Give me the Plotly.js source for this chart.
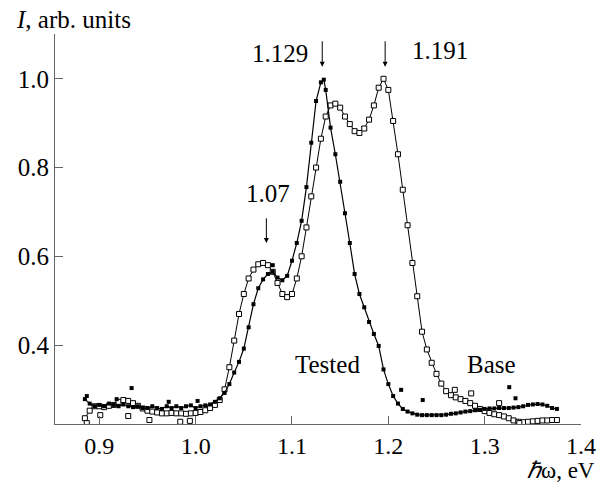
<!DOCTYPE html>
<html>
<head>
<meta charset="utf-8">
<script src="https://cdn.plot.ly/plotly-3.0.1.min.js"></script>
<style>html,body{margin:0;padding:0;background:#fff;}#chart{width:599px;height:483px;}</style>
</head>
<body>
<div id="chart"></div>
<script>
// Base sample (open squares)
const baseE = [0.885,0.890,0.895,0.900,0.905,0.910,0.915,0.920,0.925,0.930,0.935,0.940,0.945,0.950,0.955,0.960,0.965,0.970,0.975,0.980,0.985,0.990,0.995,1.000,1.005,1.010,1.015,1.020,1.025,1.030,1.035,1.040,1.045,1.050,1.055,1.060,1.065,1.070,1.075,1.080,1.085,1.090,1.095,1.100,1.105,1.110,1.115,1.120,1.125,1.130,1.135,1.140,1.145,1.150,1.155,1.160,1.165,1.170,1.175,1.180,1.185,1.190,1.195,1.200,1.205,1.210,1.215,1.220,1.225,1.230,1.235,1.240,1.245,1.250,1.255,1.260,1.265,1.270,1.275,1.280,1.285,1.290,1.295,1.300,1.305,1.310,1.315,1.320,1.325,1.330,1.335,1.340,1.345,1.350,1.355,1.360,1.365,1.370,1.375];
const baseI = [0.235,0.252,0.262,0.262,0.260,0.263,0.265,0.272,0.276,0.274,0.269,0.263,0.257,0.252,0.250,0.248,0.246,0.246,0.247,0.246,0.246,0.245,0.246,0.247,0.249,0.253,0.258,0.265,0.276,0.300,0.350,0.410,0.470,0.515,0.550,0.570,0.582,0.585,0.580,0.565,0.540,0.515,0.508,0.515,0.550,0.600,0.665,0.735,0.800,0.865,0.915,0.940,0.944,0.935,0.915,0.898,0.882,0.878,0.888,0.908,0.940,0.980,1.000,0.975,0.905,0.830,0.750,0.670,0.585,0.510,0.430,0.390,0.360,0.335,0.313,0.296,0.287,0.282,0.278,0.274,0.269,0.263,0.256,0.251,0.247,0.244,0.242,0.239,0.235,0.230,0.227,0.226,0.227,0.228,0.229,0.230,0.230,0.231,0.231];
const baseOutE = [0.887,0.901,0.930,0.952,0.984,0.994,1.269,1.286,1.315,1.336];
const baseOutI = [0.224,0.242,0.240,0.231,0.227,0.229,0.299,0.291,0.269,0.224];

// Tested sample (filled squares)
const testedE = [0.885,0.890,0.895,0.900,0.905,0.910,0.915,0.920,0.925,0.930,0.935,0.940,0.945,0.950,0.955,0.960,0.965,0.970,0.975,0.980,0.985,0.990,0.995,1.000,1.005,1.010,1.015,1.020,1.025,1.030,1.035,1.040,1.045,1.050,1.055,1.060,1.065,1.070,1.075,1.080,1.085,1.090,1.095,1.100,1.105,1.110,1.115,1.120,1.125,1.130,1.133,1.135,1.140,1.145,1.150,1.155,1.160,1.165,1.170,1.175,1.180,1.185,1.190,1.195,1.200,1.205,1.210,1.215,1.220,1.225,1.230,1.235,1.240,1.245,1.250,1.255,1.260,1.265,1.270,1.275,1.280,1.285,1.290,1.295,1.300,1.305,1.310,1.315,1.320,1.325,1.330,1.335,1.340,1.345,1.350,1.355,1.360,1.365,1.370,1.375];
const testedI = [0.278,0.268,0.262,0.265,0.262,0.268,0.265,0.262,0.266,0.262,0.260,0.262,0.258,0.258,0.262,0.258,0.256,0.262,0.258,0.262,0.258,0.262,0.264,0.258,0.262,0.264,0.266,0.272,0.280,0.292,0.312,0.338,0.362,0.392,0.440,0.492,0.528,0.548,0.560,0.565,0.552,0.546,0.556,0.590,0.630,0.680,0.756,0.856,0.950,0.992,0.998,0.975,0.890,0.830,0.768,0.697,0.630,0.560,0.515,0.485,0.452,0.425,0.398,0.345,0.312,0.285,0.268,0.256,0.250,0.246,0.243,0.242,0.242,0.242,0.242,0.242,0.243,0.245,0.246,0.248,0.250,0.251,0.253,0.254,0.256,0.257,0.257,0.258,0.258,0.258,0.259,0.260,0.262,0.265,0.266,0.267,0.266,0.263,0.258,0.256];
const testedOutE = [0.887,0.918,0.9335,0.972,1.002,1.080,1.2133,1.2357,1.3255,1.332];
const testedOutI = [0.285,0.278,0.303,0.272,0.274,0.580,0.299,0.276,0.305,0.280];

const xTicks = [0.9,1.0,1.1,1.2,1.3,1.4];
const xTickText = ['0.9','1.0','1.1','1.2','1.3','1.4'];
const yTicks = [0.4,0.6,0.8,1.0];
const yTickText = ['0.4','0.6','0.8','1.0'];

const peakE = [1.07,1.129,1.191];
const peakText = ['1.07','1.129','1.191'];

const serif = 'Liberation Serif';
const axisColor = '#666';

const traces = [
  {x: baseE, y: baseI, type: 'scatter', mode: 'lines+markers', name: 'Base',
   line: {color: '#000', width: 1},
   marker: {symbol: 'square', size: 5, color: '#fff', line: {color: '#000', width: 1}}},
  {x: baseOutE, y: baseOutI, type: 'scatter', mode: 'markers', name: 'Base',
   marker: {symbol: 'square', size: 5, color: '#fff', line: {color: '#000', width: 1}}},
  {x: testedE, y: testedI, type: 'scatter', mode: 'lines+markers', name: 'Tested',
   line: {color: '#000', width: 1.2},
   marker: {symbol: 'square', size: 4, color: '#000'}},
  {x: testedOutE, y: testedOutI, type: 'scatter', mode: 'markers', name: 'Tested',
   marker: {symbol: 'square', size: 4, color: '#000'}}
];

const f = {family: serif, size: 25, color: '#000'};
const annotations = [
  {xref: 'paper', yref: 'paper', x: -0.078, y: 1.037, xanchor: 'left', yanchor: 'middle', showarrow: false,
   text: '<i>I</i>, arb. units', font: f},
  {xref: 'paper', yref: 'paper', x: 1.03, y: -0.119, xanchor: 'right', yanchor: 'middle', showarrow: false,
   text: '<i>ℏ</i>ω, eV', font: {family: serif, size: 23, color: '#000'}},
  {x: 1.0747, y: 0.741, text: peakText[0], showarrow: false, font: f},
  {x: 1.0872, y: 1.058, text: peakText[1], showarrow: false, font: f},
  {x: 1.2535, y: 1.064, text: peakText[2], showarrow: false, font: f},
  {x: 1.137, y: 0.355, text: 'Tested', showarrow: false, font: f},
  {x: 1.3074, y: 0.355, text: 'Base', showarrow: false, font: f}
];
// arrows above peaks
const arrowTop = [0.689, 1.088, 1.088];
const arrowBot = [0.630, 1.027, 1.027];
const arrowX = [1.0734, 1.1314, 1.1967];
for (let i = 0; i < peakE.length; i++) {
  annotations.push({x: arrowX[i], y: arrowBot[i], ax: arrowX[i], ay: arrowTop[i], axref: 'x', ayref: 'y',
    text: '', showarrow: true, arrowhead: 2, arrowsize: 1, arrowwidth: 1, arrowcolor: '#000'});
}

const layout = {
  width: 599, height: 483,
  margin: {l: 55, r: 18, t: 34, b: 59, pad: 0},
  paper_bgcolor: '#fff', plot_bgcolor: '#fff',
  showlegend: false,
  font: {family: serif, size: 25, color: '#000'},
  xaxis: {range: [0.854, 1.4], showgrid: false, zeroline: false, showline: true, linecolor: axisColor, linewidth: 1,
    ticks: 'inside', ticklen: 8, tickcolor: axisColor, tickwidth: 1, tickvals: xTicks, ticktext: xTickText,
    tickfont: {family: serif, size: 24, color: '#000'}},
  yaxis: {range: [0.222, 1.101], showgrid: false, zeroline: false, showline: true, linecolor: axisColor, linewidth: 1,
    ticks: 'inside', ticklen: 8, tickcolor: axisColor, tickwidth: 1, tickvals: yTicks, ticktext: yTickText,
    tickfont: {family: serif, size: 25, color: '#000'}},
  annotations: annotations
};

Plotly.newPlot('chart', traces, layout, {staticPlot: true, displayModeBar: false});
</script>
</body>
</html>
